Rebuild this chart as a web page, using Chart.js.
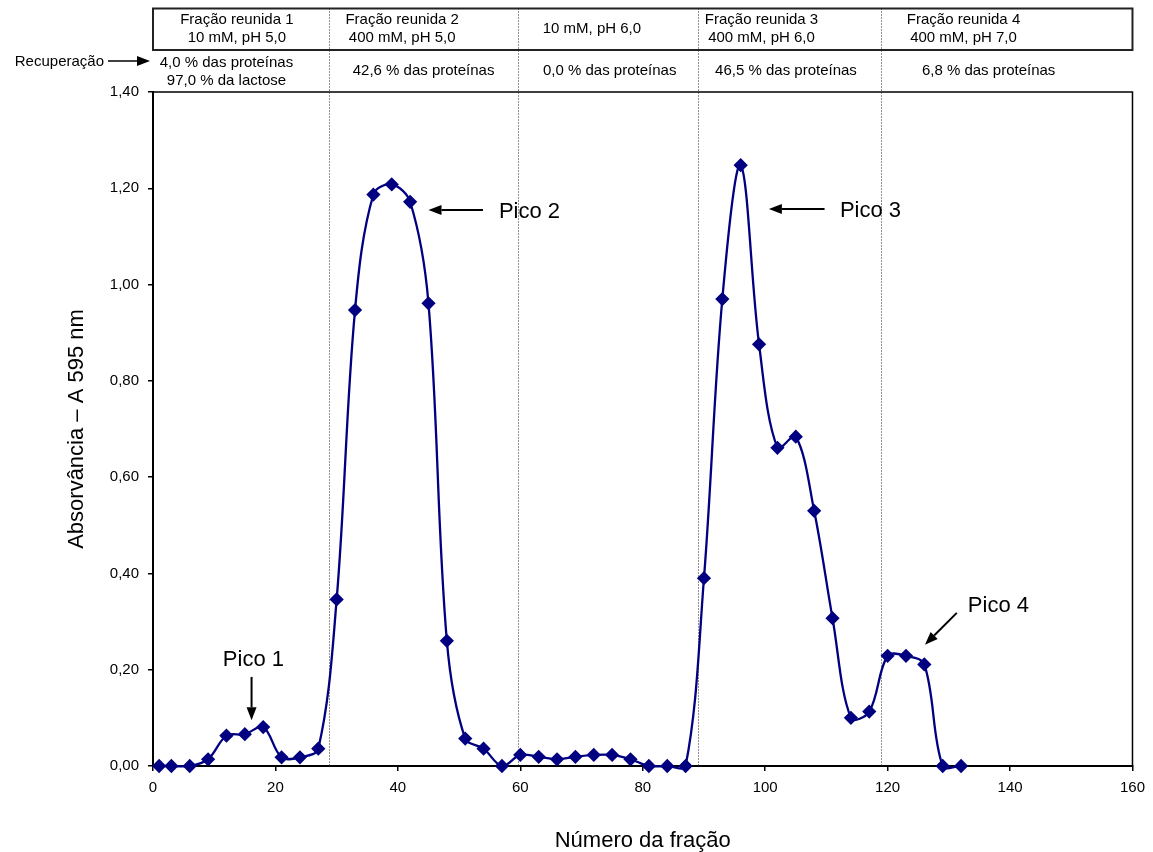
<!DOCTYPE html>
<html>
<head>
<meta charset="utf-8">
<script src="https://cdn.jsdelivr.net/npm/chart.js@4.4.1/dist/chart.umd.min.js"></script>
<style>
  html, body { margin: 0; padding: 0; background: #fff; }
  #wrap { width: 1153px; height: 852px; }
</style>
</head>
<body>
<div id="wrap"><canvas id="chart"></canvas></div>
<script>
// fraction number and absorbance (A 595 nm)
const fractions = [1, 3, 6, 9, 12, 15, 18, 21, 24, 27, 30, 33, 36, 39, 42, 45, 48, 51, 54, 57, 60, 63, 66, 69, 72, 75, 78, 81, 84, 87, 90, 93, 96, 99, 102, 105, 108, 111, 114, 117, 120, 123, 126, 129, 132];
const absorbance = [0, 0, 0, 0.014, 0.063, 0.066, 0.081, 0.018, 0.018, 0.036, 0.346, 0.947, 1.187, 1.208, 1.172, 0.961, 0.26, 0.057, 0.036, 0, 0.023, 0.019, 0.014, 0.019, 0.023, 0.023, 0.014, 0, 0, 0, 0.39, 0.97, 1.248, 0.876, 0.661, 0.684, 0.53, 0.307, 0.1, 0.113, 0.229, 0.229, 0.211, 0, 0];

// pooled fraction boundaries (dotted lines)
const poolLimits = [28.8, 59.6, 89.0, 118.9];

// header table
const poolTitles = [
  ['Fração reunida 1', '10 mM, pH 5,0'],
  ['Fração reunida 2', '400 mM, pH 5,0'],
  ['10 mM, pH 6,0'],
  ['Fração reunida 3', '400 mM, pH 6,0'],
  ['Fração reunida 4', '400 mM, pH 7,0']
];
const recoveryTexts = [
  ['4,0 % das proteínas', '97,0 % da lactose'],
  ['42,6 % das proteínas'],
  ['0,0 % das proteínas'],
  ['46,5 % das proteínas'],
  ['6,8 % das proteínas']
];
const titleCenters = [13.7, 40.7, 71.7, 99.4, 132.4];
const recoveryCenters = [12.0, 44.2, 74.6, 103.4, 136.5];

// peak labels
const peakLabels = ['Pico 1', 'Pico 2', 'Pico 3', 'Pico 4'];
const peakTextAt = [[16.4, 0.22], [61.5, 1.15], [117.2, 1.153], [138.1, 0.333]];
const peakArrowFrom = [[16.1, 0.185], [53.9, 1.155], [109.7, 1.157], [131.3, 0.318]];
const peakArrowTo = [[16.1, 0.095], [45.0, 1.155], [100.6, 1.157], [126.1, 0.252]];

const xTicks = { min: 0, max: 160, step: 20 };
const yTicks = { min: 0, max: 1.4, step: 0.2 };

const FONT = '"Liberation Sans", Arial, sans-serif';

function arrow(ctx, x1, y1, x2, y2) {
  const a = Math.atan2(y2 - y1, x2 - x1);
  const len = 13, half = 5;
  const bx = x2 - len * Math.cos(a), by = y2 - len * Math.sin(a);
  ctx.beginPath();
  ctx.moveTo(x1, y1);
  ctx.lineTo(bx, by);
  ctx.stroke();
  ctx.beginPath();
  ctx.moveTo(x2, y2);
  ctx.lineTo(bx + half * Math.sin(a), by - half * Math.cos(a));
  ctx.lineTo(bx - half * Math.sin(a), by + half * Math.cos(a));
  ctx.closePath();
  ctx.fill();
}

const decorations = {
  id: 'decorations',
  beforeDatasetsDraw(chart) {
    const { ctx, chartArea: area, scales } = chart;
    const boxTop = 8.5, boxBottom = 50;
    ctx.save();
    // plot frame (top and right)
    ctx.strokeStyle = '#000';
    ctx.lineWidth = 1.5;
    ctx.beginPath();
    ctx.moveTo(area.left, area.top);
    ctx.lineTo(area.right, area.top);
    ctx.lineTo(area.right, area.bottom);
    ctx.stroke();

    // header box
    ctx.lineWidth = 2;
    ctx.strokeStyle = '#222';
    ctx.strokeRect(area.left, boxTop, area.right - area.left, boxBottom - boxTop);

    // dotted pool limits
    ctx.strokeStyle = '#222';
    ctx.lineWidth = 1;
    ctx.setLineDash([1, 2]);
    poolLimits.forEach(v => {
      const x = Math.round(scales.x.getPixelForValue(v)) + 0.5;
      ctx.beginPath();
      ctx.moveTo(x, boxTop);
      ctx.lineTo(x, area.bottom);
      ctx.stroke();
    });
    ctx.restore();
  },
  afterDraw(chart) {
    const { ctx, chartArea: area, scales } = chart;
    ctx.save();
    ctx.fillStyle = '#000';
    ctx.strokeStyle = '#000';
    ctx.textAlign = 'center';
    ctx.textBaseline = 'middle';
    ctx.font = '15px ' + FONT;

    poolTitles.forEach((lines, i) => {
      const x = scales.x.getPixelForValue(titleCenters[i]);
      if (lines.length === 1) {
        ctx.fillText(lines[0], x, 29);
      } else {
        ctx.fillText(lines[0], x, 20);
        ctx.fillText(lines[1], x, 38);
      }
    });
    recoveryTexts.forEach((lines, i) => {
      const x = scales.x.getPixelForValue(recoveryCenters[i]);
      if (lines.length === 1) {
        ctx.fillText(lines[0], x, 71);
      } else {
        ctx.fillText(lines[0], x, 63);
        ctx.fillText(lines[1], x, 81);
      }
    });

    // "Recuperação" with arrow
    ctx.textAlign = 'right';
    ctx.fillText('Recuperação', area.left - 49, 62);
    ctx.lineWidth = 1.5;
    arrow(ctx, area.left - 45, 61, area.left - 3, 61);

    // peak labels
    ctx.textAlign = 'center';
    ctx.font = '22px ' + FONT;
    ctx.lineWidth = 2;
    peakLabels.forEach((label, i) => {
      ctx.fillText(label, scales.x.getPixelForValue(peakTextAt[i][0]), scales.y.getPixelForValue(peakTextAt[i][1]));
      arrow(ctx,
        scales.x.getPixelForValue(peakArrowFrom[i][0]), scales.y.getPixelForValue(peakArrowFrom[i][1]),
        scales.x.getPixelForValue(peakArrowTo[i][0]), scales.y.getPixelForValue(peakArrowTo[i][1]));
    });
    ctx.restore();
  }
};

const points = fractions.map((f, i) => ({ x: f, y: absorbance[i] }));

new Chart(document.getElementById('chart'), {
  type: 'line',
  data: {
    datasets: [{
      data: points,
      borderColor: '#000080',
      backgroundColor: '#000080',
      borderWidth: 2.3,
      pointStyle: 'rectRot',
      pointRadius: 5.5,
      pointHoverRadius: 5.5,
      tension: 0.35,
      capBezierPoints: false,
      clip: false
    }]
  },
  options: {
    responsive: true,
    maintainAspectRatio: false,
    animation: false,
    events: [],
    layout: { padding: { top: 92, right: 20, left: 0, bottom: 0 } },
    plugins: {
      legend: { display: false },
      tooltip: { enabled: false }
    },
    scales: {
      x: {
        type: 'linear',
        min: xTicks.min,
        max: xTicks.max,
        afterFit: s => { s.height = 86; },
        ticks: {
          stepSize: xTicks.step,
          color: '#000',
          padding: 8,
          font: { size: 15, family: FONT }
        },
        grid: { drawOnChartArea: false, tickLength: 5, color: '#000', lineWidth: 1.5 },
        border: { color: '#000', width: 2 },
        title: {
          display: true,
          text: 'Número da fração',
          color: '#000',
          font: { size: 22, family: FONT },
          padding: { top: 0, bottom: -2 }
        }
      },
      y: {
        min: yTicks.min,
        max: yTicks.max,
        afterFit: s => { s.width = 153; },
        ticks: {
          stepSize: yTicks.step,
          color: '#000',
          padding: 9,
          font: { size: 15, family: FONT },
          callback: v => v.toFixed(2).replace('.', ',')
        },
        grid: { drawOnChartArea: false, tickLength: 5, color: '#000', lineWidth: 1.5 },
        border: { color: '#000', width: 2 },
        title: {
          display: true,
          text: 'Absorvância – A 595 nm',
          color: '#000',
          font: { size: 22, family: FONT },
          padding: { top: 64, bottom: 0 }
        }
      }
    }
  },
  plugins: [decorations]
});
</script>
</body>
</html>
